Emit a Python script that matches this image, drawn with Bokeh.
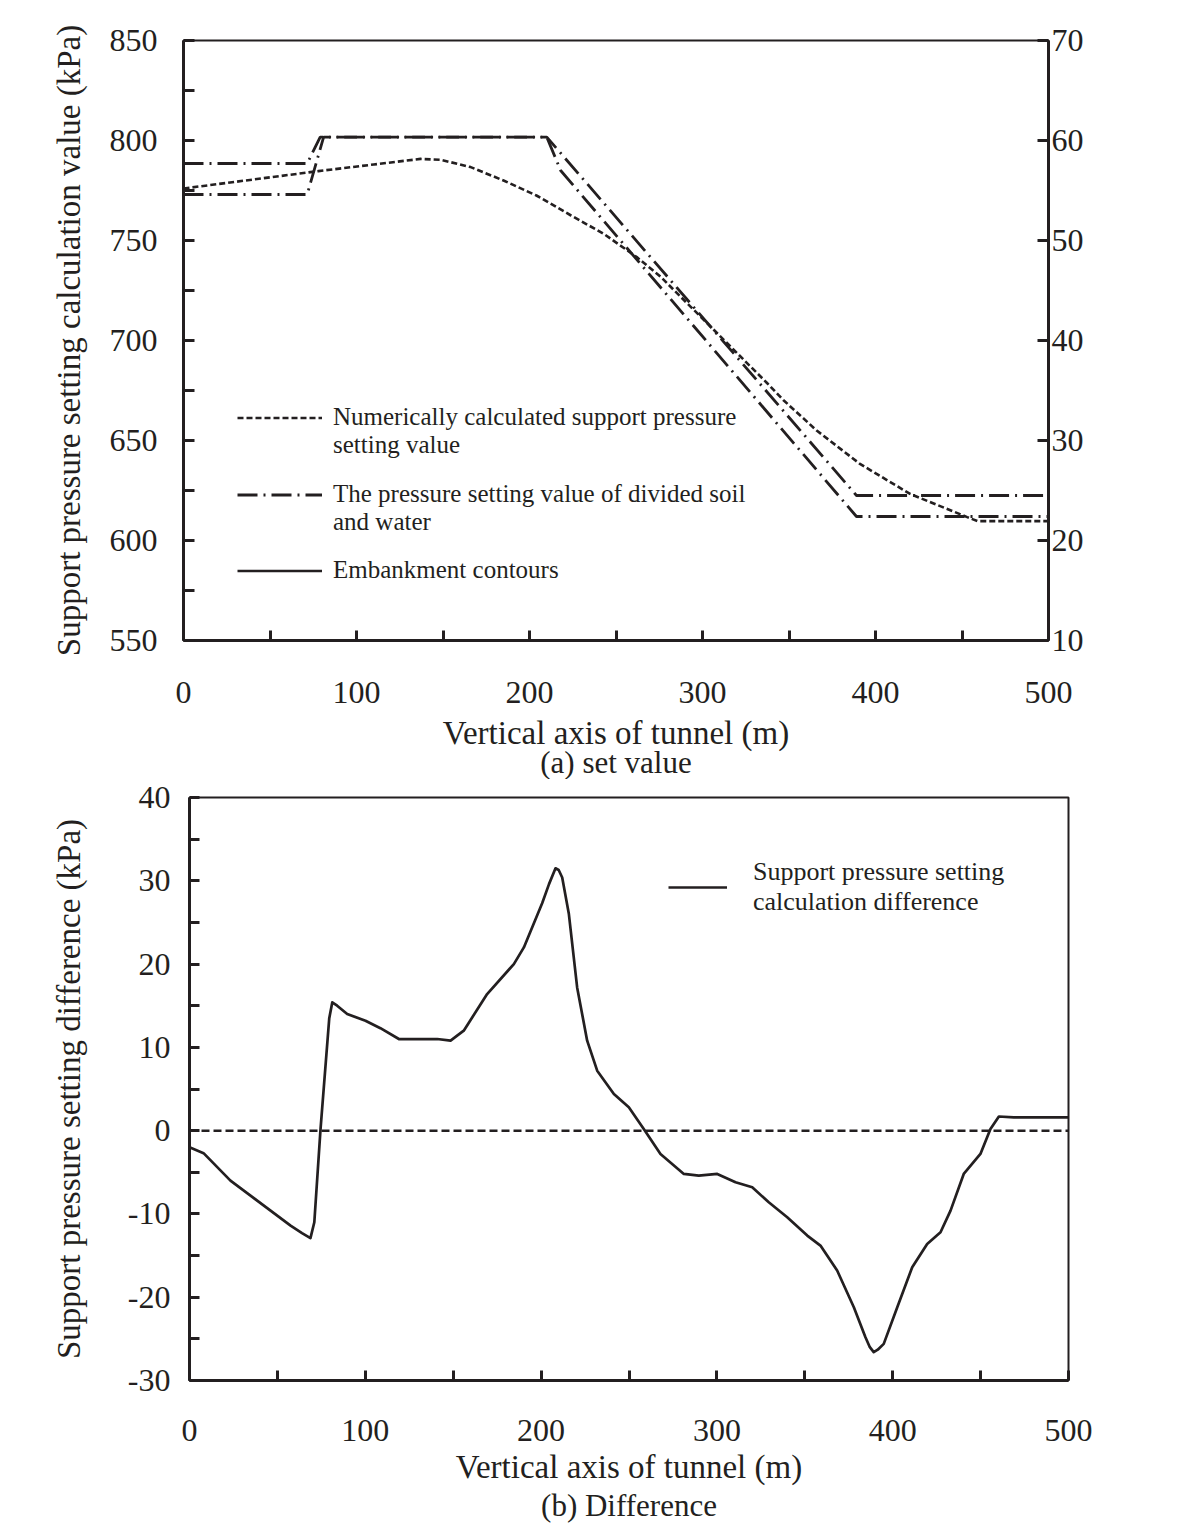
from bokeh.plotting import figure
from bokeh.models import Range1d, LinearAxis, FixedTicker, Legend, LegendItem, Title, Span
from bokeh.embed import file_html
from bokeh.resources import INLINE

FONT = "Liberation Serif"
INK = "#231f20"

# ---------------- (a) set value ----------------
num_x = [0, 78, 110, 137, 149, 166, 185, 204, 224, 243, 262, 276, 337, 347, 366, 391, 420, 453, 459, 500]
num_y = [776, 784.7, 788, 790.8, 790.3, 786.7, 780, 772.5, 762.5, 753.3, 741.7, 731.7, 679, 670, 655, 638.3, 623.3, 611.7, 609.7, 609.7]

soil_a_x = [0, 71.5, 79, 210, 389, 500]
soil_a_y = [788.5, 788.5, 801.7, 801.7, 622.5, 622.5]

soil_b_x = [0, 71.5, 81, 210, 218, 389, 500]
soil_b_y = [773, 773, 801.7, 801.7, 785, 612, 612]

x_ticks = [0, 100, 200, 300, 400, 500]
x_minor = [50, 150, 250, 350, 450]
left_ticks = [550, 600, 650, 700, 750, 800, 850]
left_minor = [575, 625, 675, 725, 775, 825]
right_ticks = [10, 20, 30, 40, 50, 60, 70]

# ---------------- (b) Difference ----------------
diff_x = [0, 8, 23.3, 34.7, 57.5, 64, 68.8, 71, 74.5, 79.5, 81.2, 84, 89.7, 100.1, 108.6, 119.1, 140.9, 148.5,
          156, 169.3, 184.5, 190.2, 200.6, 204.5, 208.2, 210, 212, 215.8, 220.5, 226.2, 231.9, 241.4, 249.9,
          258.4, 267.9, 281.2, 289.7, 300.2, 310.6, 320.1, 329.5, 340, 351.4, 358.9, 368.4, 377.9, 384.5,
          387, 389.2, 391.5, 394.9, 402.6, 411.1, 419.6, 427.2, 432.9, 440.4, 449.9, 455.6, 460.4, 468.9, 500]
diff_y = [-2.0, -2.7, -6.0, -7.8, -11.4, -12.3, -12.9, -11.0, 0.1, 13.5, 15.4, 15.0, 14.0, 13.2, 12.3, 11.0, 11.0, 10.8,
          12.0, 16.4, 20.0, 22.0, 27.3, 29.6, 31.5, 31.3, 30.4, 26.0, 17.2, 10.8, 7.2, 4.4, 2.8,
          0.2, -2.8, -5.2, -5.4, -5.2, -6.2, -6.8, -8.6, -10.4, -12.6, -13.8, -16.8, -21.2, -24.8,
          -26.0, -26.6, -26.3, -25.6, -21.2, -16.4, -13.6, -12.2, -9.6, -5.2, -2.8, 0.2, 1.7, 1.6, 1.6]

b_y_ticks = [-30, -20, -10, 0, 10, 20, 30, 40]
b_y_minor = [-25, -15, -5, 5, 15, 25, 35]


def style_axis(ax, ticks, minor, label_standoff, title_standoff=10, tick_len=11):
    ax.ticker = FixedTicker(ticks=ticks, minor_ticks=minor)
    ax.major_label_overrides = {t: str(t) for t in ticks}
    ax.axis_line_color = INK
    ax.axis_line_width = 3
    ax.major_tick_in = tick_len
    ax.major_tick_out = 0
    ax.minor_tick_in = tick_len
    ax.minor_tick_out = 0
    ax.major_tick_line_color = INK
    ax.minor_tick_line_color = INK if minor else None
    ax.major_tick_line_width = 3
    ax.minor_tick_line_width = 3
    ax.major_label_text_font = FONT
    ax.major_label_text_font_size = "32px"
    ax.major_label_text_color = INK
    ax.major_label_standoff = label_standoff
    ax.axis_label_text_font = FONT
    ax.axis_label_text_font_size = "33px"
    ax.axis_label_text_font_style = "normal"
    ax.axis_label_text_color = INK
    ax.axis_label_standoff = title_standoff


def base_style(p):
    p.grid.visible = False
    p.outline_line_color = INK
    p.outline_line_width = 2
    p.background_fill_color = "white"
    p.border_fill_color = "white"


def legend_box(items, loc, glyph_w, standoff, size="25px"):
    return Legend(items=items, location=loc, glyph_width=glyph_w, glyph_height=25,
                  label_standoff=standoff, spacing=0, padding=0, margin=0,
                  border_line_color=None, background_fill_alpha=0,
                  label_text_font=FONT, label_text_font_size=size, label_text_color=INK,
                  label_height=25)


# ----- figure (a)
p1 = figure(width=1184, height=779, x_range=Range1d(0, 500), y_range=Range1d(550, 850),
            output_backend="svg", toolbar_location=None,
            min_border_left=183, min_border_right=136, min_border_top=40, min_border_bottom=139,
            x_axis_label="Vertical axis of tunnel (m)",
            y_axis_label="Support pressure setting calculation value (kPa)")
base_style(p1)
p1.extra_y_ranges = {"right": Range1d(10, 70)}
right_axis = LinearAxis(y_range_name="right")
p1.add_layout(right_axis, "right")

style_axis(p1.xaxis[0], x_ticks, x_minor, 41, 9, tick_len=10)
style_axis(p1.yaxis[0], left_ticks, left_minor, 26, 20)
style_axis(right_axis, right_ticks, [], 3)

r_num = p1.line(num_x, num_y, line_color=INK, line_width=2.6, line_dash="6 3")
r_a = p1.line(soil_a_x, soil_a_y, line_color=INK, line_width=2.8, line_dash="20 6 2 6")
p1.line(soil_b_x, soil_b_y, line_color=INK, line_width=2.8, line_dash="20 6 2 6")
# legend-only renderers (a single point draws no line in the plot)
r_emb = p1.line(x=num_x[:1], y=num_y[:1], line_color=INK, line_width=2.6)
r_blank = p1.line(x=num_x[:1], y=num_y[:1], line_alpha=0)

p1.add_layout(legend_box([
    LegendItem(label="Numerically calculated support pressure", renderers=[r_num]),
    LegendItem(label="setting value", renderers=[r_blank]),
], (54, 181), 85, 11))
p1.add_layout(legend_box([
    LegendItem(label="The pressure setting value of divided soil", renderers=[r_a]),
    LegendItem(label="and water", renderers=[r_blank]),
], (54, 104), 85, 11))
p1.add_layout(legend_box([
    LegendItem(label="Embankment contours", renderers=[r_emb]),
], (54, 56), 85, 11))

p1.add_layout(Title(text="(a) set value", align="center", text_font=FONT, text_font_size="31px",
                    text_font_style="normal", text_color=INK, standoff=-21), "below")

# ----- figure (b)
p2 = figure(width=1184, height=761, x_range=Range1d(0, 500), y_range=Range1d(-30, 40),
            output_backend="svg", toolbar_location=None,
            min_border_left=189, min_border_right=116, min_border_top=18, min_border_bottom=160,
            x_axis_label="Vertical axis of tunnel (m)",
            y_axis_label="Support pressure setting difference (kPa)")
base_style(p2)
style_axis(p2.xaxis[0], x_ticks, x_minor, 39, 5, tick_len=10)
style_axis(p2.yaxis[0], b_y_ticks, b_y_minor, 19, 38, tick_len=10)

p2.add_layout(Span(location=0, dimension="width", line_color=INK, line_width=2.5, line_dash="8 4"))
r_diff = p2.line(diff_x, diff_y, line_color=INK, line_width=2.7, line_join="round")

leg2 = Legend(items=[
    LegendItem(label="Support pressure setting\ncalculation difference", renderers=[r_diff]),
], location=(479, 463), glyph_width=59, glyph_height=56, label_standoff=26,
    padding=0, margin=0, border_line_color=None, background_fill_alpha=0,
    label_text_font=FONT, label_text_font_size="26px", label_text_color=INK,
    label_text_line_height=1.1)
p2.add_layout(leg2)

p2.add_layout(Title(text="(b) Difference", align="center", text_font=FONT, text_font_size="31px",
                    text_font_style="normal", text_color=INK, standoff=-4), "below")

open("out.html", "w").write(file_html([p1, p2], INLINE))
